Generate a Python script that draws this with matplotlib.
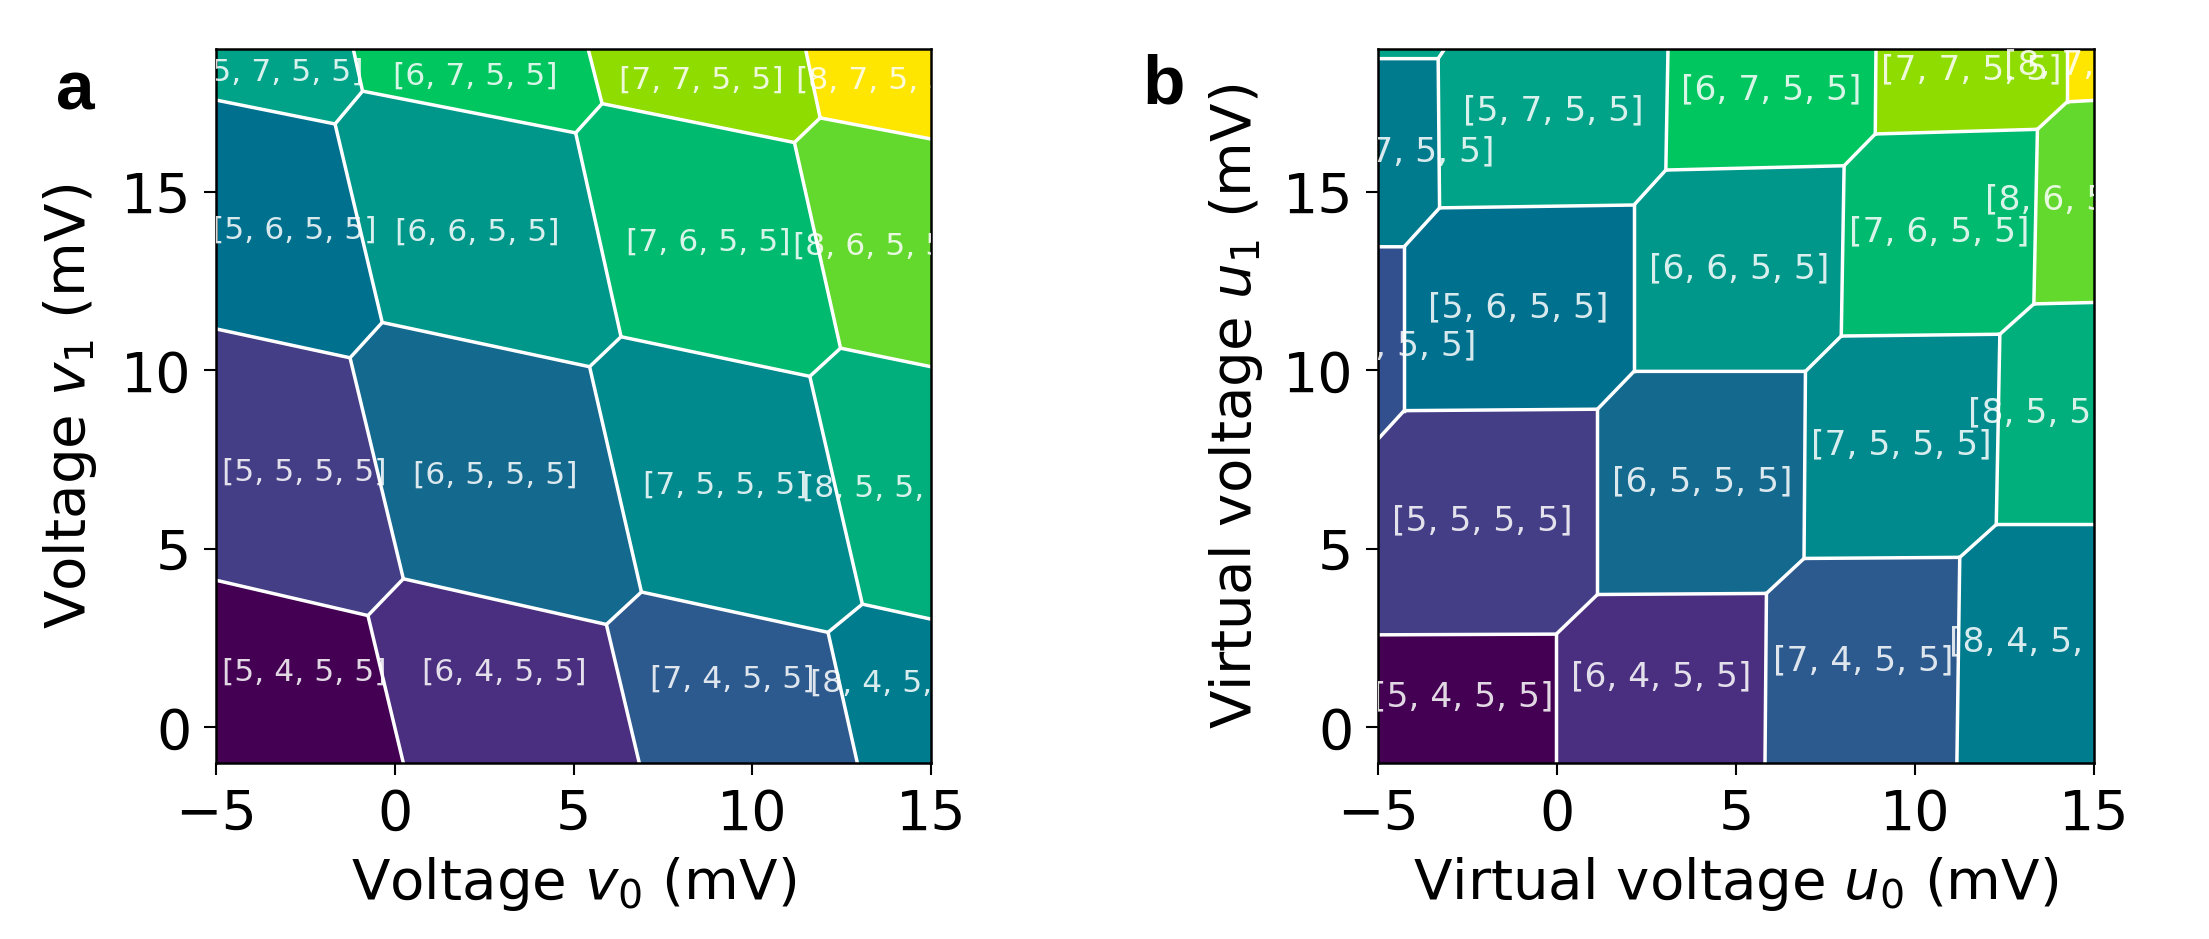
import matplotlib
matplotlib.use('Agg')
import matplotlib.pyplot as plt

# cell colours, same charge state = same colour in both panels
states = ['[5, 4, 5, 5]', '[6, 4, 5, 5]', '[7, 4, 5, 5]', '[8, 4, 5, 5]',
          '[5, 5, 5, 5]', '[6, 5, 5, 5]', '[7, 5, 5, 5]', '[8, 5, 5, 5]',
          '[4, 6, 5, 5]', '[5, 6, 5, 5]', '[6, 6, 5, 5]', '[7, 6, 5, 5]', '[8, 6, 5, 5]',
          '[4, 7, 5, 5]', '[5, 7, 5, 5]', '[6, 7, 5, 5]', '[7, 7, 5, 5]', '[8, 7, 5, 5]']
state_colors = ['#440053', '#4a2e7f', '#2c5a8e', '#007c8f',
                '#433e85', '#14698f', '#008a8d', '#00af7b',
                '#33508e', '#00708f', '#00978b', '#00bb6f', '#63d82d',
                '#007b8d', '#00a388', '#00c660', '#8fdc00', '#ffe600']

# panel a: vertices (mV)
a_pts = {'A': (-5, 4.12), 'B': (-0.75, 3.13), 'C': (0.24, 4.16), 'D': (5.92, 2.88),
         'E': (6.90, 3.79), 'F': (12.12, 2.66), 'G': (13.08, 3.45), 'H': (15, 3.03),
         'I': (-5, 11.16), 'J': (-1.25, 10.35), 'K': (-0.35, 11.34), 'L': (5.45, 10.10),
         'M': (6.33, 10.94), 'N': (11.61, 9.83), 'O': (12.47, 10.62), 'P': (15, 10.10),
         'Q': (-5, 17.57), 'R': (-1.67, 16.90), 'S': (-0.90, 17.82), 'T': (5.06, 16.65),
         'U': (5.80, 17.47), 'V': (11.18, 16.38), 'W': (11.90, 17.07), 'X': (15, 16.48),
         'b0': (-5, -1), 'b1': (0.24, -1), 'b2': (6.84, -1), 'b3': (12.94, -1), 'b4': (15, -1),
         't0': (-5, 19), 't1': (-1.16, 19), 't2': (5.41, 19), 't3': (11.49, 19), 't4': (15, 19)}
a_cells = {'[5, 4, 5, 5]': 'b0 b1 B A', '[6, 4, 5, 5]': 'b1 b2 D C B',
           '[7, 4, 5, 5]': 'b2 b3 F E D', '[8, 4, 5, 5]': 'b3 b4 H G F',
           '[5, 5, 5, 5]': 'A B C J I', '[6, 5, 5, 5]': 'C D E L K J',
           '[7, 5, 5, 5]': 'E F G N M L', '[8, 5, 5, 5]': 'G H P O N',
           '[5, 6, 5, 5]': 'I J K R Q', '[6, 6, 5, 5]': 'K L M T S R',
           '[7, 6, 5, 5]': 'M N O V U T', '[8, 6, 5, 5]': 'O P X W V',
           '[5, 7, 5, 5]': 'Q R S t1 t0', '[6, 7, 5, 5]': 'S T U t2 t1',
           '[7, 7, 5, 5]': 'U V W t3 t2', '[8, 7, 5, 5]': 'W X t4 t3'}
a_lines = ['A B C D E F G H', 'I J K L M N O P', 'Q R S T U V W X',
           'B b1', 'D b2', 'F b3', 'J C', 'L E', 'N G', 'R K', 'T M', 'V O',
           'S t1', 'U t2', 'W t3']
a_labels = {'[5, 7, 5, 5]': (-3.18, 18.35), '[6, 7, 5, 5]': (2.25, 18.23),
            '[7, 7, 5, 5]': (8.57, 18.12), '[8, 7, 5, 5]': (13.53, 18.12),
            '[5, 6, 5, 5]': (-2.82, 13.92), '[6, 6, 5, 5]': (2.31, 13.88),
            '[7, 6, 5, 5]': (8.76, 13.58), '[8, 6, 5, 5]': (13.45, 13.48),
            '[5, 5, 5, 5]': (-2.53, 7.15), '[6, 5, 5, 5]': (2.80, 7.07),
            '[7, 5, 5, 5]': (9.25, 6.78), '[8, 5, 5, 5]': (13.69, 6.71),
            '[5, 4, 5, 5]': (-2.53, 1.54), '[6, 4, 5, 5]': (3.06, 1.54),
            '[7, 4, 5, 5]': (9.45, 1.35), '[8, 4, 5, 5]': (13.92, 1.23)}

# panel b: same thing in virtual voltages
b_pts = {'a1': (-5, 2.59), 'a2': (-0.02, 2.61), 'a3': (1.13, 3.72), 'a4': (5.85, 3.75),
         'a5': (6.90, 4.73), 'a6': (11.25, 4.76), 'a7': (12.27, 5.68), 'a8': (15, 5.68),
         'c0': (-5, 8.07), 'c1': (-4.27, 8.87), 'c2': (1.13, 8.91), 'c3': (2.15, 9.97),
         'c4': (6.94, 9.97), 'c5': (7.94, 10.96), 'c6': (12.37, 11.01), 'c7': (13.32, 11.86),
         'c8': (15, 11.90),
         'd0': (-5, 13.46), 'd1': (-4.27, 13.46), 'd2': (-3.28, 14.55), 'd3': (2.15, 14.63),
         'd4': (3.04, 15.61), 'd5': (8.02, 15.73), 'd6': (8.89, 16.62), 'd7': (13.42, 16.75),
         'd8': (14.25, 17.52), 'd9': (15, 17.56),
         'e0': (-5, 18.73), 'e1': (-3.32, 18.73),
         'b0': (-5, -1), 'b1': (-0.02, -1), 'b2': (5.81, -1), 'b3': (11.17, -1), 'b4': (15, -1),
         't0': (-5, 19), 't1': (-3.14, 19), 't2': (3.10, 19), 't3': (8.91, 19), 't4': (14.25, 19),
         't5': (15, 19)}
b_cells = {'[5, 4, 5, 5]': 'b0 b1 a2 a1', '[6, 4, 5, 5]': 'b1 b2 a4 a3 a2',
           '[7, 4, 5, 5]': 'b2 b3 a6 a5 a4', '[8, 4, 5, 5]': 'b3 b4 a8 a7 a6',
           '[5, 5, 5, 5]': 'a1 a2 a3 c2 c1 c0', '[6, 5, 5, 5]': 'a3 a4 a5 c4 c3 c2',
           '[7, 5, 5, 5]': 'a5 a6 a7 c6 c5 c4', '[8, 5, 5, 5]': 'a7 a8 c8 c7 c6',
           '[4, 6, 5, 5]': 'c0 c1 d1 d0',
           '[5, 6, 5, 5]': 'c1 c2 c3 d3 d2 d1', '[6, 6, 5, 5]': 'c3 c4 c5 d5 d4 d3',
           '[7, 6, 5, 5]': 'c5 c6 c7 d7 d6 d5', '[8, 6, 5, 5]': 'c7 c8 d9 d8 d7',
           '[4, 7, 5, 5]': 'd0 d1 d2 e1 e0',
           '[5, 7, 5, 5]': 'd2 d3 d4 t2 t1 e1', '[6, 7, 5, 5]': 'd4 d5 d6 t3 t2',
           '[7, 7, 5, 5]': 'd6 d7 d8 t4 t3', '[8, 7, 5, 5]': 'd8 d9 t5 t4',
           '[3, 8, 5, 5]': 'e0 e1 t1 t0'}
b_lines = ['a1 a2 a3 a4 a5 a6 a7 a8', 'c0 c1 c2 c3 c4 c5 c6 c7 c8',
           'd0 d1 d2 d3 d4 d5 d6 d7 d8 d9', 'e0 e1 t1',
           'a2 b1', 'a4 b2', 'a6 b3', 'c2 a3', 'c4 a5', 'c6 a7',
           'c1 d1', 'd3 c3', 'd5 c5', 'd7 c7', 'd2 e1', 'd4 t2', 'd6 t3', 'd8 t4']
b_labels = {'[4, 7, 5, 5]': (-4.27, 16.11), '[5, 7, 5, 5]': (-0.10, 17.27),
            '[6, 7, 5, 5]': (5.99, 17.86), '[7, 7, 5, 5]': (11.56, 18.40),
            '[8, 7, 5, 5]': (15.0, 18.56), '[4, 6, 5, 5]': (-4.76, 10.67),
            '[5, 6, 5, 5]': (-1.07, 11.75), '[6, 6, 5, 5]': (5.08, 12.85),
            '[7, 6, 5, 5]': (10.67, 13.88), '[8, 6, 5, 5]': (14.49, 14.78),
            '[5, 5, 5, 5]': (-2.09, 5.77), '[6, 5, 5, 5]': (4.05, 6.86),
            '[7, 5, 5, 5]': (9.62, 7.90), '[8, 5, 5, 5]': (13.99, 8.82),
            '[5, 4, 5, 5]': (-2.63, 0.85), '[6, 4, 5, 5]': (2.91, 1.40),
            '[7, 4, 5, 5]': (8.56, 1.87), '[8, 4, 5, 5]': (13.46, 2.38)}

state_colors = dict(zip(states, state_colors))
state_colors['[3, 8, 5, 5]'] = '#00a388'


def draw_panel(ax, pts, cells, lines, labels, xlabel, ylabel, label_size, ypad):
    for name, verts in cells.items():
        xy = [pts[v] for v in verts.split()]
        ax.fill([p[0] for p in xy], [p[1] for p in xy], color=state_colors[name], lw=0)
    for line in lines:
        xy = [pts[v] for v in line.split()]
        ax.plot([p[0] for p in xy], [p[1] for p in xy], color='white', lw=2.5,
                solid_joinstyle='miter')
    for name, (x, y) in labels.items():
        ax.text(x, y, name, color='white', fontsize=label_size, alpha=0.85,
                ha='center', va='center', clip_on=True)
    ax.set_xlim(-5, 15)
    ax.set_ylim(-1, 19)
    ax.set_xticks([-5, 0, 5, 10, 15])
    ax.set_yticks([0, 5, 10, 15])
    ax.tick_params(labelsize=40, length=8.6, width=1.5, pad=9)
    ax.set_xlabel(xlabel, fontsize=40.5, labelpad=10)
    ax.set_ylabel(ylabel, fontsize=40.5, labelpad=ypad)
    for s in ax.spines.values():
        s.set_linewidth(1.8)


fig = plt.figure(figsize=(22.09, 9.39), dpi=100)
ax_a = fig.add_axes([216 / 2209, 1 - 763 / 939, 715 / 2209, 714 / 939])
ax_b = fig.add_axes([1378 / 2209, 1 - 763 / 939, 716 / 2209, 714 / 939])

draw_panel(ax_a, a_pts, a_cells, a_lines, a_labels,
           r'Voltage $v_0$ (mV)', r'Voltage $v_1$ (mV)', 22.6, 16)
draw_panel(ax_b, b_pts, b_cells, b_lines, b_labels,
           r'Virtual voltage $u_0$ (mV)', r'Virtual voltage $u_1$ (mV)', 24.8, 13)

fig.text(56 / 2209, 1 - 110 / 939, 'a', fontsize=50, fontweight='bold', family='Liberation Sans')
fig.text(1142 / 2209, 1 - 104 / 939, 'b', fontsize=50, fontweight='bold', family='Liberation Sans')

plt.savefig('out.png', dpi=100)
